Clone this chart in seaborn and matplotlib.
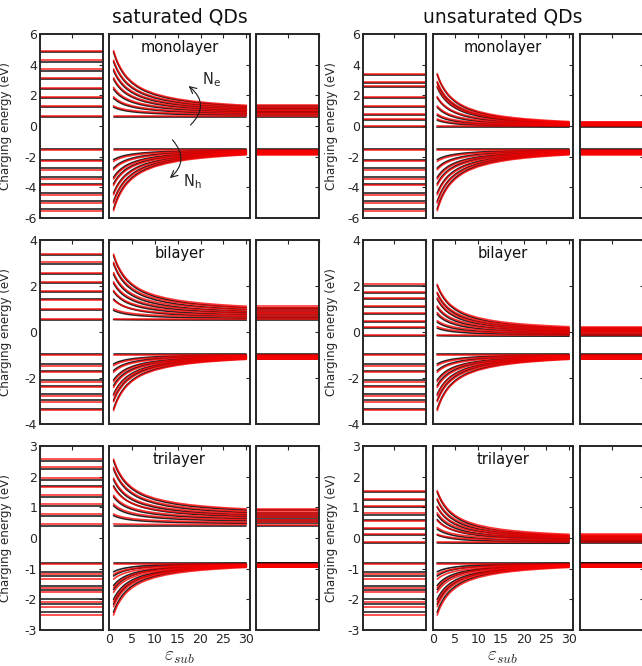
import numpy as np
import pandas as pd
import matplotlib
matplotlib.use("Agg")
import matplotlib.pyplot as plt
import seaborn as sns

sns.set_theme(style="white")
plt.rcParams["font.family"] = ["DejaVu Sans"]
plt.rcParams["axes.unicode_minus"] = False

# ---------------- data ----------------
# substrate dielectric constant grid and the shared (normalised) screening decay
EPS = [1, 1.25, 1.5, 1.75, 2, 2.5, 3, 3.5, 4, 5, 6, 7, 8, 10, 12.5, 15, 17.5, 20, 22.5, 25, 27.5, 30]
DECAY = [1.0, 0.933, 0.874, 0.820, 0.772, 0.690, 0.621, 0.562, 0.512, 0.431, 0.368, 0.317, 0.276,
         0.212, 0.156, 0.115, 0.084, 0.060, 0.041, 0.025, 0.011, 0.0]

LAYERS = ["monolayer", "bilayer", "trilayer"]
GROUPS = ["saturated QDs", "unsaturated QDs"]
YLIMS = [(-6, 6), (-4, 4), (-3, 3)]
YSTEPS = [2, 2, 1]

# holes (identical for saturated / unsaturated); VAC = eps_sub 1 level, SUB = eps_sub 30 level
MONO_H_RED_VAC = [-1.55, -2.31, -2.85, -3.46, -3.87, -4.48, -5.02, -5.52]
MONO_H_BLK_VAC = [-1.50, -2.20, -2.75, -3.35, -3.77, -4.37, -4.92, -5.41]
MONO_H_RED_SUB = [-1.55, -1.62, -1.67, -1.72, -1.76, -1.80, -1.84, -1.88]
MONO_H_BLK_SUB = [-1.50, -1.57, -1.62, -1.67, -1.71, -1.75, -1.79, -1.83]

BI_H_RED_VAC = [-0.99, -1.46, -1.75, -2.16, -2.41, -2.77, -3.03, -3.41]
BI_H_BLK_VAC = [-0.96, -1.39, -1.68, -2.09, -2.33, -2.71, -2.97, -3.35]
BI_H_RED_SUB = [-0.99, -1.03, -1.06, -1.09, -1.12, -1.14, -1.17, -1.19]
BI_H_BLK_SUB = [-0.96, -1.00, -1.03, -1.06, -1.09, -1.11, -1.13, -1.16]

TRI_H_RED_VAC = [-0.85, -1.18, -1.34, -1.62, -1.77, -2.08, -2.24, -2.51]
TRI_H_BLK_VAC = [-0.80, -1.10, -1.24, -1.55, -1.68, -2.00, -2.16, -2.42]
TRI_H_RED_SUB = [-0.85, -0.87, -0.89, -0.90, -0.92, -0.93, -0.94, -0.96]
TRI_H_BLK_SUB = [-0.80, -0.83, -0.85, -0.87, -0.88, -0.90, -0.91, -0.93]

# electrons, saturated QDs
MONO_SAT_E_RED_VAC = [0.66, 1.31, 1.90, 2.51, 3.14, 3.72, 4.29, 4.91]
MONO_SAT_E_BLK_VAC = [0.58, 1.23, 1.81, 2.40, 3.05, 3.61, 4.20, 4.82]
MONO_SAT_E_RED_SUB = [0.66, 0.78, 0.88, 0.98, 1.07, 1.16, 1.25, 1.35]
MONO_SAT_E_BLK_SUB = [0.58, 0.71, 0.82, 0.92, 1.01, 1.10, 1.19, 1.29]

BI_SAT_E_RED_VAC = [0.58, 1.00, 1.39, 1.80, 2.18, 2.58, 3.03, 3.38]
BI_SAT_E_BLK_VAC = [0.54, 0.94, 1.43, 1.76, 2.12, 2.51, 2.97, 3.33]
BI_SAT_E_RED_SUB = [0.58, 0.66, 0.73, 0.81, 0.89, 0.97, 1.05, 1.12]
BI_SAT_E_BLK_SUB = [0.52, 0.60, 0.67, 0.75, 0.83, 0.90, 0.98, 1.06]

TRI_SAT_E_RED_VAC = [0.46, 0.78, 1.11, 1.39, 1.66, 1.95, 2.30, 2.57]
TRI_SAT_E_BLK_VAC = [0.40, 0.73, 1.05, 1.34, 1.70, 1.90, 2.25, 2.52]
TRI_SAT_E_RED_SUB = [0.44, 0.52, 0.60, 0.67, 0.74, 0.80, 0.87, 0.95]
TRI_SAT_E_BLK_SUB = [0.40, 0.48, 0.56, 0.63, 0.70, 0.76, 0.83, 0.91]

# electrons, unsaturated QDs
MONO_UNS_E_RED_VAC = [-0.02, 0.45, 0.78, 1.30, 1.90, 2.60, 2.90, 3.40]
MONO_UNS_E_BLK_VAC = [-0.08, 0.38, 0.70, 1.22, 1.85, 2.52, 2.82, 3.35]
MONO_UNS_E_RED_SUB = [-0.02, 0.04, 0.09, 0.13, 0.17, 0.21, 0.25, 0.29]
MONO_UNS_E_BLK_SUB = [-0.08, -0.03, 0.02, 0.06, 0.10, 0.14, 0.18, 0.22]

BI_UNS_E_RED_VAC = [-0.12, 0.23, 0.49, 0.84, 1.13, 1.49, 1.72, 2.07]
BI_UNS_E_BLK_VAC = [-0.16, 0.17, 0.43, 0.77, 1.07, 1.43, 1.68, 2.02]
BI_UNS_E_RED_SUB = [-0.12, -0.06, -0.01, 0.04, 0.09, 0.13, 0.18, 0.23]
BI_UNS_E_BLK_SUB = [-0.18, -0.12, -0.07, -0.02, 0.03, 0.07, 0.12, 0.17]

TRI_UNS_E_RED_VAC = [-0.12, 0.12, 0.34, 0.57, 0.82, 1.03, 1.28, 1.54]
TRI_UNS_E_BLK_VAC = [-0.16, 0.10, 0.29, 0.60, 0.76, 1.01, 1.24, 1.50]
TRI_UNS_E_RED_SUB = [-0.12, -0.08, -0.04, 0.00, 0.03, 0.06, 0.09, 0.12]
TRI_UNS_E_BLK_SUB = [-0.17, -0.13, -0.09, -0.05, -0.02, 0.01, 0.04, 0.07]

HOLES = [
    dict(red=(MONO_H_RED_VAC, MONO_H_RED_SUB), black=(MONO_H_BLK_VAC, MONO_H_BLK_SUB)),
    dict(red=(BI_H_RED_VAC, BI_H_RED_SUB), black=(BI_H_BLK_VAC, BI_H_BLK_SUB)),
    dict(red=(TRI_H_RED_VAC, TRI_H_RED_SUB), black=(TRI_H_BLK_VAC, TRI_H_BLK_SUB)),
]
ELECTRONS = {
    "saturated QDs": [
        dict(red=(MONO_SAT_E_RED_VAC, MONO_SAT_E_RED_SUB), black=(MONO_SAT_E_BLK_VAC, MONO_SAT_E_BLK_SUB)),
        dict(red=(BI_SAT_E_RED_VAC, BI_SAT_E_RED_SUB), black=(BI_SAT_E_BLK_VAC, BI_SAT_E_BLK_SUB)),
        dict(red=(TRI_SAT_E_RED_VAC, TRI_SAT_E_RED_SUB), black=(TRI_SAT_E_BLK_VAC, TRI_SAT_E_BLK_SUB)),
    ],
    "unsaturated QDs": [
        dict(red=(MONO_UNS_E_RED_VAC, MONO_UNS_E_RED_SUB), black=(MONO_UNS_E_BLK_VAC, MONO_UNS_E_BLK_SUB)),
        dict(red=(BI_UNS_E_RED_VAC, BI_UNS_E_RED_SUB), black=(BI_UNS_E_BLK_VAC, BI_UNS_E_BLK_SUB)),
        dict(red=(TRI_UNS_E_RED_VAC, TRI_UNS_E_RED_SUB), black=(TRI_UNS_E_BLK_VAC, TRI_UNS_E_BLK_SUB)),
    ],
}

COLORS = {"black": "#000000", "red": "#ff0000"}
ALPHAS = {"black": 0.85, "red": 0.8}
LW = 1.2
EDGE = "#262626"

# ---------------- layout ----------------
W, H = 642, 666
fig = plt.figure(figsize=(W / 100, H / 100), dpi=100)

ROW_TOP = [34, 240, 446]
ROW_H = 184
COLS = {
    "saturated QDs": [(40, 63), (109, 141), (256, 63)],
    "unsaturated QDs": [(362.7, 63.5), (432.7, 140), (579.5, 64)],
}
YLAB_X = {"saturated QDs": -0.44, "unsaturated QDs": -0.39}


def add_ax(x, w, top):
    return fig.add_axes([x / W, 1 - (top + ROW_H) / H, w / W, ROW_H / H])


def style(ax, ylim, ystep):
    ax.set_ylim(*ylim)
    ax.set_yticks(np.arange(ylim[0], ylim[1] + 0.01, ystep))
    ax.tick_params(direction="in", top=True, right=True, length=3, width=0.8,
                   colors=EDGE, labelsize=9, pad=2)
    for s in ax.spines.values():
        s.set_linewidth(1.4)
        s.set_color(EDGE)
    ax.set_xlabel("")
    ax.set_ylabel("")


def curves_frame(model_levels):
    rows = []
    for i, (vac, sub) in enumerate(zip(*model_levels)):
        for e, d in zip(EPS, DECAY):
            rows.append(dict(eps=e, E=sub + (vac - sub) * d, level=i))
    return pd.DataFrame(rows)


for g, group in enumerate(GROUPS):
    for r, layer in enumerate(LAYERS):
        top = ROW_TOP[r]
        ylim, ystep = YLIMS[r], YSTEPS[r]
        sets = [HOLES[r], ELECTRONS[group][r]]
        (lx, lw_), (mx, mw), (rx, rw) = COLS[group]

        # left: levels in vacuum (eps_sub = 1)
        axl = add_ax(lx, lw_, top)
        for model in ["black", "red"]:
            for s in sets:
                for v in s[model][0]:
                    axl.axhline(v, color=COLORS[model], alpha=ALPHAS[model], lw=LW)
        axl.set_xlim(0, 1)
        axl.set_xticks([0, 0.5, 1])
        axl.set_xticklabels([])
        style(axl, ylim, ystep)
        axl.set_ylabel("Charging energy (eV)", fontsize=8.6, color=EDGE)
        axl.yaxis.set_label_coords(YLAB_X[group], 0.5)

        # middle: levels versus substrate dielectric constant
        axm = add_ax(mx, mw, top)
        for model in ["black", "red"]:
            for s in sets:
                df = curves_frame(s[model])
                sns.lineplot(data=df, x="eps", y="E", units="level", estimator=None,
                             color=COLORS[model], alpha=ALPHAS[model], lw=LW,
                             sort=False, legend=False, ax=axm)
        axm.set_xlim(0, 30.8)
        axm.set_xticks(range(0, 31, 5))
        style(axm, ylim, ystep)
        axm.set_yticklabels([])
        if r == 2:
            axm.set_xticklabels([str(t) for t in range(0, 31, 5)])
            axm.set_xlabel(r"$\varepsilon_{sub}$", fontsize=14, color=EDGE,
                           math_fontfamily="cm", labelpad=1)
        else:
            axm.set_xticklabels([])
        axm.text(0.5, 0.925, layer, transform=axm.transAxes, ha="center", va="center",
                 fontsize=10.5, color="#111111")

        if g == 0 and r == 0:
            axm.annotate("", xy=(17.4, 2.61), xytext=(17.8, 0.06),
                         arrowprops=dict(arrowstyle="->", color="k", lw=0.8,
                                         connectionstyle="arc3,rad=0.55",
                                         shrinkA=0, shrinkB=0))
            axm.annotate("", xy=(13.3, -3.4), xytext=(13.85, -0.9),
                         arrowprops=dict(arrowstyle="->", color="k", lw=0.8,
                                         connectionstyle="arc3,rad=-0.5",
                                         shrinkA=0, shrinkB=0))
            axm.text(22.4, 3.0, r"N$_\mathrm{e}$", fontsize=10.5, ha="center", va="center",
                     math_fontfamily="dejavusans")
            axm.text(18.1, -3.65, r"N$_\mathrm{h}$", fontsize=10.5, ha="center", va="center",
                     math_fontfamily="dejavusans")

        # right: levels on strongly screening substrate (eps_sub = 30)
        axr = add_ax(rx, rw, top)
        for model in ["black", "red"]:
            for s in sets:
                for v in s[model][1]:
                    axr.axhline(v, color=COLORS[model], alpha=ALPHAS[model], lw=LW)
        axr.set_xlim(0, 1)
        axr.set_xticks([0, 0.5, 1])
        axr.set_xticklabels([])
        style(axr, ylim, ystep)
        axr.set_yticklabels([])

    cx = (COLS[group][1][0] + COLS[group][1][1] / 2) / W
    fig.text(cx, 1 - 17 / H, group, ha="center", va="center", fontsize=13.5, color="#111111")

fig.savefig("out.png", dpi=100)
